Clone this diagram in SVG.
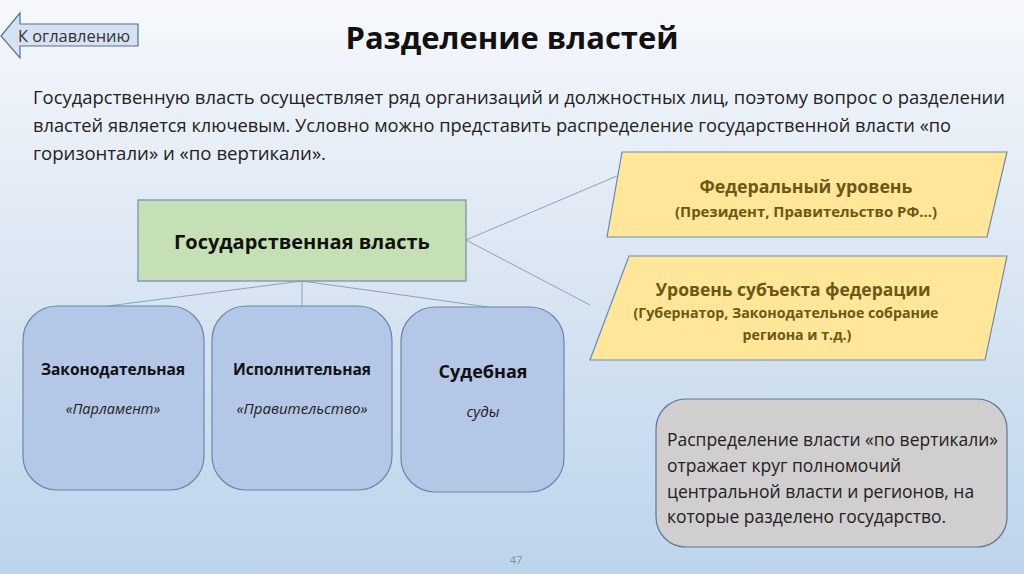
<svg xmlns="http://www.w3.org/2000/svg" width="1024" height="574" viewBox="0 0 1024 574">
<defs>
<linearGradient id="bg" x1="0" y1="0" x2="0" y2="1">
<stop offset="0" stop-color="#f6f8fc"/>
<stop offset="0.5" stop-color="#d9e5f2"/>
<stop offset="1" stop-color="#bcd4ec"/>
</linearGradient>
<style>
text{font-family:"Open Sans","Liberation Sans",sans-serif;}
.b{font-weight:bold;}
.blue{fill:#b4c7e7;stroke:#6a86ad;stroke-width:1.2;}
.yel{fill:#ffe699;stroke:#6a8ab5;stroke-width:1.2;}
.con{stroke:#8ca2bb;stroke-width:1;fill:none;}
.ol{fill:#6b5814;font-weight:bold;text-anchor:middle;}
</style>
</defs>
<rect width="1024" height="574" fill="url(#bg)"/>
<g id="back">
<polygon points="1,36 20,13 20,24 138,24 138,46 20,46 20,58" fill="#d6e2f2" stroke="#5a6f8c" stroke-width="1.2"/>
<text x="18" y="42" font-size="16" fill="#333" textLength="112" lengthAdjust="spacingAndGlyphs">К оглавлению</text>
</g>
<text x="512" y="49" font-size="31" class="b" fill="#111" text-anchor="middle" textLength="333" lengthAdjust="spacingAndGlyphs">Разделение властей</text>
<g id="para" font-size="18" fill="#222">
<text x="33" y="104" textLength="972" lengthAdjust="spacingAndGlyphs">Государственную власть осуществляет ряд организаций и должностных лиц, поэтому вопрос о разделении</text>
<text x="33" y="132" textLength="918" lengthAdjust="spacingAndGlyphs">властей является ключевым. Условно можно представить распределение государственной власти «по</text>
<text x="33" y="160" textLength="293" lengthAdjust="spacingAndGlyphs">горизонтали» и «по вертикали».</text>
</g>
<g id="connectors" class="con">
<line x1="302" y1="281" x2="302" y2="306"/>
<line x1="302" y1="281" x2="108" y2="306"/>
<line x1="302" y1="281" x2="488" y2="307"/>
<line x1="466" y1="240" x2="617" y2="176"/>
<line x1="466" y1="240" x2="590" y2="305"/>
</g>
<g id="gov">
<rect x="138" y="200" width="328" height="81" fill="#c5e0b4" stroke="#6d8fae" stroke-width="1.2"/>
<text x="302" y="249" font-size="20" class="b" fill="#111" text-anchor="middle">Государственная власть</text>
</g>
<g id="leg">
<rect x="23" y="306" width="181" height="184" rx="34" class="blue"/>
<text x="113" y="375" font-size="15.5" class="b" fill="#111" text-anchor="middle">Законодательная</text>
<text x="113" y="414" font-size="14.5" font-style="italic" fill="#222" text-anchor="middle">«Парламент»</text>
</g>
<g id="exe">
<rect x="212" y="306" width="180" height="184" rx="34" class="blue"/>
<text x="302" y="375" font-size="15.5" class="b" fill="#111" text-anchor="middle">Исполнительная</text>
<text x="302" y="414" font-size="15" font-style="italic" fill="#222" text-anchor="middle">«Правительство»</text>
</g>
<g id="jud">
<rect x="401" y="307" width="163" height="185" rx="34" class="blue"/>
<text x="483" y="378" font-size="18" class="b" fill="#111" text-anchor="middle">Судебная</text>
<text x="483" y="417" font-size="15" font-style="italic" fill="#222" text-anchor="middle">суды</text>
</g>
<g id="federal">
<polygon points="622,152 1007,152 987,237 607,237" class="yel"/>
<text x="806" y="193" font-size="17.5" class="ol" textLength="213" lengthAdjust="spacingAndGlyphs">Федеральный уровень</text>
<text x="806" y="217" font-size="14.5" class="ol" textLength="262" lengthAdjust="spacingAndGlyphs">(Президент, Правительство РФ…)</text>
</g>
<g id="subject">
<polygon points="629,256 1007,256 985,360 590,360" class="yel"/>
<text x="793" y="296" font-size="17.5" class="ol" textLength="275" lengthAdjust="spacingAndGlyphs">Уровень субъекта федерации</text>
<text x="786" y="318" font-size="14.2" class="ol" textLength="305" lengthAdjust="spacingAndGlyphs">(Губернатор, Законодательное собрание</text>
<text x="797" y="340" font-size="14.2" class="ol">региона и т.д.)</text>
</g>
<g id="note">
<rect x="656" y="399" width="351" height="148" rx="30" fill="#d0cece" stroke="#5f7694" stroke-width="1.2"/>
<g font-size="17.5" fill="#222">
<text x="667" y="446" textLength="331" lengthAdjust="spacingAndGlyphs">Распределение власти «по вертикали»</text>
<text x="667" y="472">отражает круг полномочий</text>
<text x="667" y="498">центральной власти и регионов, на</text>
<text x="667" y="523">которые разделено государство.</text>
</g>
</g>
<text x="516" y="564" font-size="11" fill="#8a8f99" text-anchor="middle">47</text>
</svg>
